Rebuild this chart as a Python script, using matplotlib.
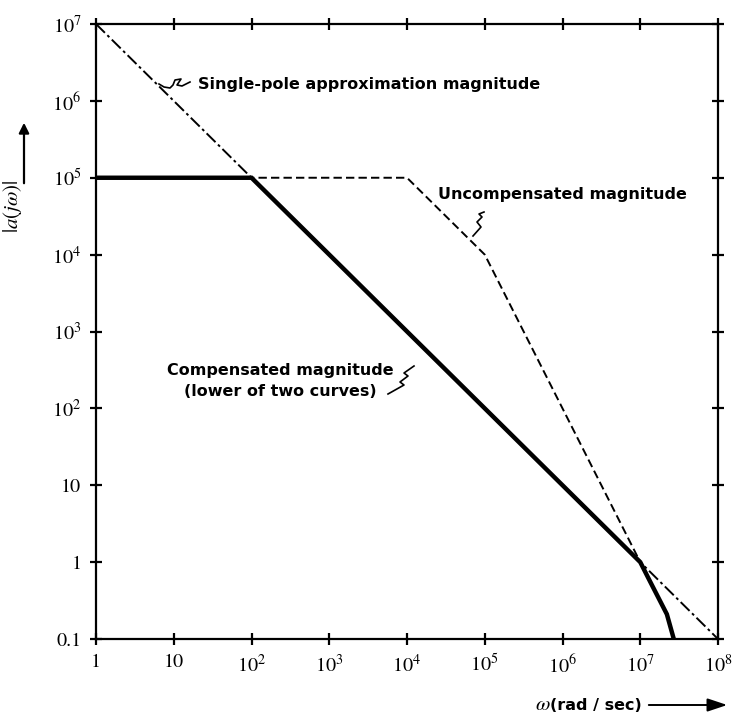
import matplotlib
matplotlib.use("Agg")
import matplotlib.pyplot as plt
from matplotlib.lines import Line2D
from matplotlib.patches import FancyArrowPatch

plt.rcParams['mathtext.fontset'] = 'stix'
plt.rcParams['lines.scale_dashes'] = False

# ---- data ----
single_w = [1, 1e8]
single_mag = [1e7, 0.1]

uncomp_w = [1, 1e4, 1e5, 1e7, 2.2e7, 2.7e7]
uncomp_mag = [1e5, 1e5, 1e4, 1, 0.21, 0.1]

comp_w = [1, 100, 1e7, 1.35e7, 2.2e7, 2.7e7]
comp_mag = [1e5, 1e5, 1, 0.55, 0.21, 0.1]

x_ticks = [1, 10, 1e2, 1e3, 1e4, 1e5, 1e6, 1e7, 1e8]
x_labels = ['1', '10', r'$10^{2}$', r'$10^{3}$', r'$10^{4}$', r'$10^{5}$',
            r'$10^{6}$', r'$10^{7}$', r'$10^{8}$']
y_ticks = [0.1, 1, 10, 1e2, 1e3, 1e4, 1e5, 1e6, 1e7]
y_labels = ['0.1', '1', '10', r'$10^{2}$', r'$10^{3}$', r'$10^{4}$',
            r'$10^{5}$', r'$10^{6}$', r'$10^{7}$']

W, H = 738, 713
fig = plt.figure(figsize=(W / 100, H / 100), dpi=100)
L, R, T, B = 96, 718, 24, 639
ax = fig.add_axes([L / W, 1 - B / H, (R - L) / W, (B - T) / H])
ax.set_xscale('log')
ax.set_yscale('log')
ax.set_xlim(1, 1e8)
ax.set_ylim(0.1, 1e7)

ax.plot(single_w, single_mag, color='black', lw=1.4, dashes=(9, 2.5, 2, 2.5))
ax.plot(uncomp_w, uncomp_mag, color='black', lw=1.4, dashes=(6, 3))
ax.plot(comp_w, comp_mag, color='black', lw=3.2, solid_joinstyle='miter')

ax.set_xticks(x_ticks)
ax.set_xticklabels(x_labels)
ax.set_yticks(y_ticks)
ax.set_yticklabels(y_labels)
ax.minorticks_off()
ax.tick_params(which='major', direction='inout', length=9, width=1.6,
               top=True, right=True, labelsize=14.5, pad=6)
for lab in ax.get_xticklabels() + ax.get_yticklabels():
    lab.set_fontfamily('STIXGeneral')
for s in ax.spines.values():
    s.set_linewidth(1.6)


def fx(x):
    return x / W


def fy(y):
    return 1 - y / H


def squiggle(pts):
    fig.add_artist(Line2D([fx(p[0]) for p in pts], [fy(p[1]) for p in pts],
                          transform=fig.transFigure, color='black', lw=1.2))


tfont = dict(family='DejaVu Sans', weight='bold', size=11.5, color='black')

fig.text(fx(198), fy(85), 'Single-pole approximation magnitude',
         ha='left', va='center', **tfont)
squiggle([(159, 84), (164, 87), (170, 88), (173, 85), (175, 80), (181, 79),
          (177, 85), (182, 86), (190, 82)])

fig.text(fx(438), fy(195), 'Uncompensated magnitude',
         ha='left', va='center', **tfont)
squiggle([(473, 236), (481, 227), (477, 222), (482, 217), (479, 214),
          (484, 212)])

fig.text(fx(280), fy(371), 'Compensated magnitude',
         ha='center', va='center', **tfont)
fig.text(fx(280), fy(392), '(lower of two curves)',
         ha='center', va='center', **tfont)
squiggle([(388, 394), (404, 385), (400, 382), (408, 376), (404, 373),
          (414, 366)])

# y label with arrow
fig.text(fx(12), fy(206), r'$|a(j\omega)|$', rotation=90,
         ha='center', va='center', fontsize=15)
fig.add_artist(FancyArrowPatch(
    (fx(24), fy(186)), (fx(24), fy(120)), transform=fig.transFigure,
    arrowstyle='-|>,head_length=6,head_width=3', color='black', lw=1.6,
    mutation_scale=1))

# x label with arrow
fig.text(fx(642), fy(705), '(rad / sec)', ha='right', va='center', **tfont)
fig.text(fx(551), fy(704), r'$\omega$', ha='right', va='center', fontsize=15)
fig.add_artist(FancyArrowPatch(
    (fx(646), fy(705)), (fx(730), fy(705)), transform=fig.transFigure,
    arrowstyle='-|>,head_length=12,head_width=4', color='black', lw=1.4,
    mutation_scale=1))

fig.savefig('out.png', dpi=100)
